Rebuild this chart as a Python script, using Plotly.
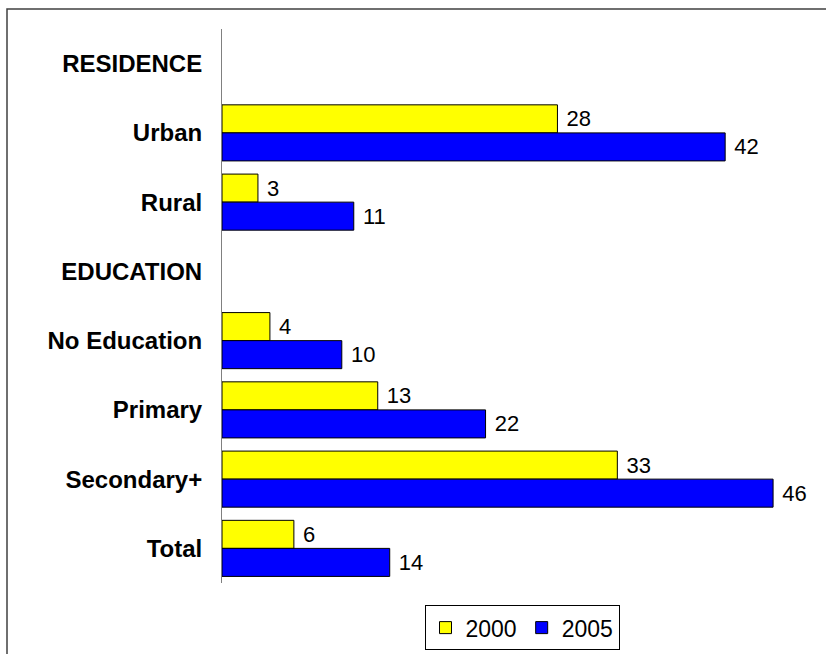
import plotly.graph_objects as go

# Row labels, top to bottom; section headers carry no bars
categories = ["RESIDENCE", "Urban", "Rural", "EDUCATION",
              "No Education", "Primary", "Secondary+", "Total"]
values_2000 = [None, 28, 3, None, 4, 13, 33, 6]
values_2005 = [None, 42, 11, None, 10, 22, 46, 14]
series_names = ["2000", "2005"]

FONT = "Arial, Liberation Sans, sans-serif"
W, H = 826, 654
L, R, T, B = 222, 4, 29, 71
plot_w = W - L - R
plot_h = H - T - B
px_per_unit = 11.98

fig = go.Figure()
for name, vals, color in [(series_names[0], values_2000, "#FFFF00"),
                          (series_names[1], values_2005, "#0000FF")]:
    fig.add_trace(go.Bar(
        y=categories, x=vals, name=name, orientation="h",
        marker=dict(color=color, line=dict(color="black", width=1)),
        texttemplate=" %{x}", textposition="outside",
        textfont=dict(family=FONT, size=22, color="black"),
        cliponaxis=False,
    ))

fig.update_layout(
    width=W, height=H,
    margin=dict(l=L, r=R, t=T, b=B),
    paper_bgcolor="white", plot_bgcolor="white",
    barmode="group", bargap=0.19, bargroupgap=0,
    font=dict(family=FONT, color="black"),
    showlegend=True,
    legend=dict(
        orientation="h", x=0.5, xanchor="center", y=-0.04, yanchor="top",
        bordercolor="black", borderwidth=1,
        font=dict(family=FONT, size=23, color="black"),
        traceorder="normal", itemwidth=30,
    ),
    xaxis=dict(range=[0, plot_w / px_per_unit], visible=False,
               showgrid=False, zeroline=False),
    yaxis=dict(
        categoryorder="array", categoryarray=categories,
        autorange="reversed",
        showline=True, linecolor="#808080", linewidth=1,
        showgrid=False, ticks="", ticklabelstandoff=14,
        tickfont=dict(family=FONT, size=24, color="black", weight="bold"),
    ),
)

# Outer frame of the chart
fig.add_shape(
    type="rect", xref="paper", yref="paper",
    x0=(7 - L) / plot_w, x1=(W + 20 - L) / plot_w,
    y0=-(B + 20) / plot_h, y1=1 + (T - 9) / plot_h,
    line=dict(color="#404040", width=1.5), fillcolor="rgba(0,0,0,0)",
    layer="below",
)

fig.write_html("out.html")
